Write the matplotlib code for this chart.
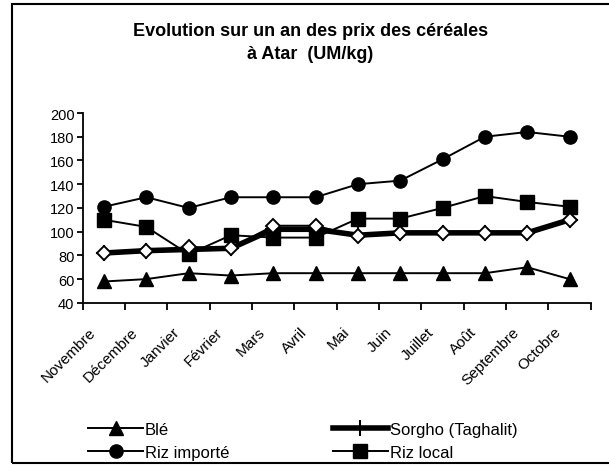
import numpy as np
import matplotlib
matplotlib.use('Agg')
import matplotlib.pyplot as plt
from matplotlib.patches import Rectangle

plt.rcParams['font.family'] = ['Liberation Sans', 'DejaVu Sans']

mois = ['Novembre', 'Décembre', 'Janvier', 'Février', 'Mars', 'Avril',
        'Mai', 'Juin', 'Juillet', 'Août', 'Septembre', 'Octobre']
ble = [58, 60, 65, 63, 65, 65, 65, 65, 65, 65, 70, 60]
riz_importe = [121, 129, 120, 129, 129, 129, 140, 143, 161, 180, 184, 180]
riz_local = [110, 104, 81, 97, 95, 95, 111, 111, 120, 130, 125, 121]
sorgho = [82, 84, 85, 86, 102, 102, 97, 99, 99, 99, 99, 110]
autre = [82, 84, 87, 86, 105, 105, 96, 99, 99, 99, 99, 110]
yticks = [40, 60, 80, 100, 120, 140, 160, 180, 200]

fig = plt.figure(figsize=(6.09, 4.77), dpi=100)
ax = fig.add_axes([0.136, 0.363, 0.834, 0.398])

x = np.arange(len(mois)) + 0.5

ax.plot(x, ble, color='black', lw=1.4, marker='^', ms=10, label='Blé', zorder=3)
ax.plot(x, riz_importe, color='black', lw=1.4, marker='o', ms=9.5, label='Riz importé', zorder=3)
ax.plot(x, sorgho, color='black', lw=4, marker='+', ms=11, mew=1.5,
        label='Sorgho (Taghalit)', zorder=2)
ax.plot(x, riz_local, color='black', lw=1.4, marker='s', ms=9.5, label='Riz local', zorder=3)
ax.plot(x, autre, color='black', lw=1.4, marker='D', ms=7.5, mfc='white', mew=1.4,
        label='_nolegend_', zorder=4)

ax.set_xlim(0, len(mois))
ax.set_ylim(40, 200)
ax.set_yticks(yticks)
ax.set_xticks(np.arange(len(mois) + 1))
ax.set_xticklabels([])
# labels sit a little left of the category centre
ax.set_xticks(x - 0.25, minor=True)
ax.set_xticklabels(mois, minor=True, rotation=45, ha='right', va='center',
                   rotation_mode='anchor', fontsize=11)
ax.tick_params(axis='x', which='minor', length=0, pad=19)
ax.tick_params(axis='x', which='major', direction='out', length=5, width=1.3)
ax.tick_params(axis='y', direction='out', length=4, width=1.3, labelsize=10.5, pad=2)
for s in ['top', 'right']:
    ax.spines[s].set_visible(False)
for s in ['left', 'bottom']:
    ax.spines[s].set_linewidth(1.3)
ax.set_clip_on(False)

fig.text(0.51, 0.933, 'Evolution sur un an des prix des céréales',
         ha='center', va='center', fontsize=13, fontweight='bold')
fig.text(0.51, 0.885, 'à Atar  (UM/kg)',
         ha='center', va='center', fontsize=13, fontweight='bold')

h, l = ax.get_legend_handles_labels()
leg = fig.legend(h[:4], l[:4], ncol=2,
                 loc='center left', bbox_to_anchor=(88 / 609, 1 - 442 / 477),
                 frameon=False, borderpad=0, borderaxespad=0,
                 fontsize=12, handlelength=3.3, columnspacing=6.2, handletextpad=0.12,
                 labelspacing=0.45)

fig.patches.append(Rectangle((12 / 609, 1 - 464 / 477), 1.0, (464 - 5) / 477,
                             transform=fig.transFigure, fill=False,
                             edgecolor='black', lw=1.5))

fig.savefig('out.png', dpi=100)
